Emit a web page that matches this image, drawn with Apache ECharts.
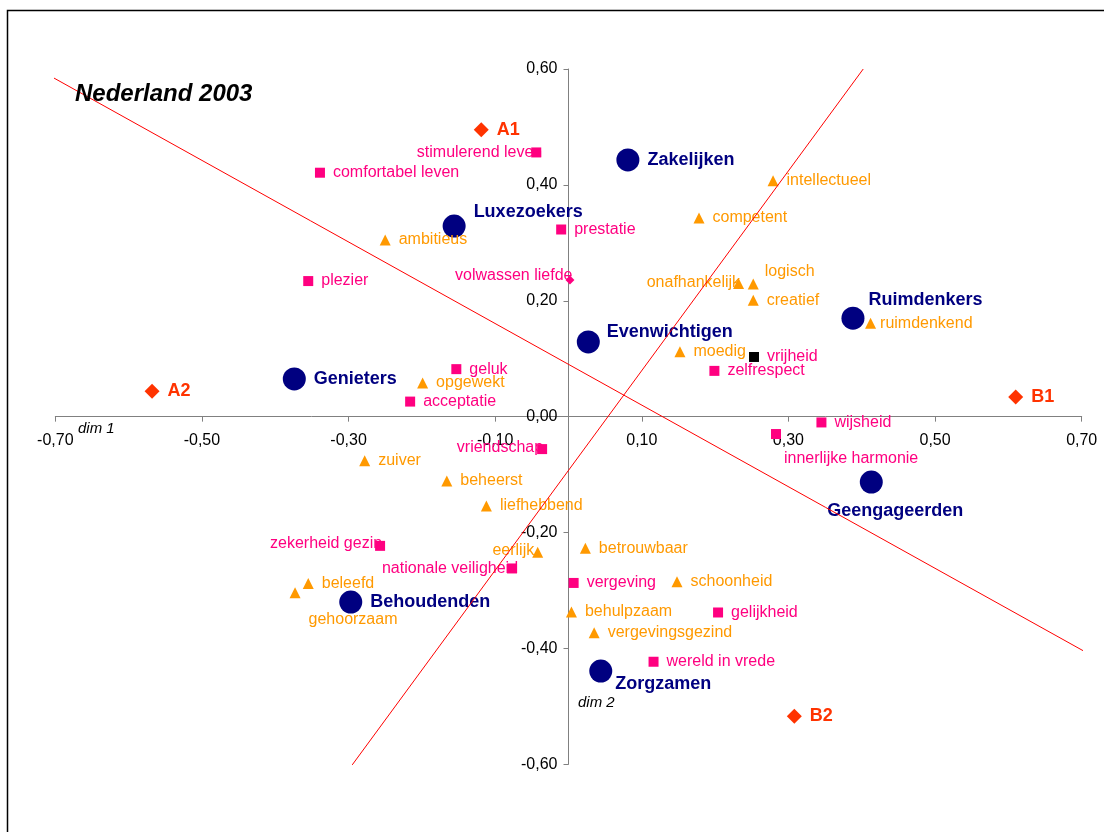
<!DOCTYPE html>
<html>
<head>
<meta charset="utf-8">
<script src="https://cdn.jsdelivr.net/npm/echarts@6/dist/echarts.min.js"></script>
<style>
html,body{margin:0;padding:0;background:#fff;}
#chart{width:1104px;height:832px;}
</style>
</head>
<body>
<div id="chart"></div>
<script>
// groepen (segmenten)
var groups = [
	[-0.156, 0.329, 'Luxezoekers'],
	[0.081, 0.443, 'Zakelijken'],
	[0.388, 0.170, 'Ruimdenkers'],
	[0.027, 0.129, 'Evenwichtigen'],
	[-0.374, 0.065, 'Genieters'],
	[0.413, -0.113, 'Geengageerden'],
	[-0.297, -0.320, 'Behoudenden'],
	[0.044, -0.439, 'Zorgzamen']
];
// ankerpunten
var anchors = [
	[-0.119, 0.495, 'A1'],
	[-0.568, 0.044, 'A2'],
	[0.610, 0.034, 'B1'],
	[0.308, -0.517, 'B2']
];
// eindwaarden
var terminal = [
	[-0.044, 0.456, 'stimulerend leven'],
	[-0.339, 0.421, 'comfortabel leven'],
	[-0.010, 0.323, 'prestatie'],
	[-0.355, 0.234, 'plezier'],
	[-0.153, 0.082, 'geluk'],
	[-0.216, 0.026, 'acceptatie'],
	[0.199, 0.079, 'zelfrespect'],
	[0.345, -0.010, 'wijsheid'],
	[0.283, -0.030, 'innerlijke harmonie'],
	[-0.036, -0.056, 'vriendschap'],
	[-0.257, -0.223, 'zekerheid gezin'],
	[-0.077, -0.262, 'nationale veiligheid'],
	[0.007, -0.287, 'vergeving'],
	[0.204, -0.338, 'gelijkheid'],
	[0.116, -0.423, 'wereld in vrede']
];
var terminalDiamond = [
	[0.002, 0.236, 'volwassen liefde']
];
var terminalBlack = [
	[0.253, 0.103, 'vrijheid']
];
// instrumentele waarden
var instrumental = [
	[0.279, 0.407, 'intellectueel'],
	[0.178, 0.343, 'competent'],
	[-0.250, 0.305, 'ambitieus'],
	[0.232, 0.230, 'onafhankelijk'],
	[0.252, 0.229, 'logisch'],
	[0.252, 0.201, 'creatief'],
	[0.412, 0.161, 'ruimdenkend'],
	[0.152, 0.112, 'moedig'],
	[-0.199, 0.058, 'opgewekt'],
	[-0.278, -0.076, 'zuiver'],
	[-0.166, -0.111, 'beheerst'],
	[-0.112, -0.154, 'liefhebbend'],
	[-0.042, -0.234, 'eerlijk'],
	[0.023, -0.227, 'betrouwbaar'],
	[0.148, -0.285, 'schoonheid'],
	[-0.355, -0.288, 'beleefd'],
	[-0.373, -0.304, 'gehoorzaam'],
	[0.004, -0.337, 'behulpzaam'],
	[0.035, -0.373, 'vergevingsgezind']
];
// assen (rode lijnen)
var axisA = [[-0.707, 0.588], [0.702, -0.404]];
var axisB = [[-0.295, -0.601], [0.402, 0.600]];

// afwijkende labelposities
var labelPlace = {
	'stimulerend leven': {position: 'left', distance: 0, offset: [11, 0]},
	'volwassen liefde': {position: 'left', distance: 0, offset: [7, -4]},
	'onafhankelijk': {position: 'left', distance: 0, offset: [7, -1]},
	'vriendschap': {position: 'left', distance: 0, offset: [6, -2]},
	'zekerheid gezin': {position: 'left', distance: 0, offset: [7, -2]},
	'nationale veiligheid': {position: 'left', distance: 0, offset: [11, 0]},
	'eerlijk': {position: 'left', distance: 0, offset: [2, -2]},
	'innerlijke harmonie': {position: 'right', distance: 3, offset: [0, 25]},
	'gehoorzaam': {position: 'right', distance: 8, offset: [0, 27]},
	'logisch': {position: 'right', distance: 6, offset: [0, -12]},
	'ruimdenkend': {position: 'right', distance: 4},
	'Luxezoekers': {position: 'right', distance: 8, offset: [0, -14]},
	'Ruimdenkers': {position: 'right', distance: 4, offset: [0, -18]},
	'Evenwichtigen': {position: 'right', distance: 7, offset: [0, -10]},
	'Zorgzamen': {position: 'right', distance: 3, offset: [0, 13]},
	'Geengageerden': {position: 'bottom', distance: 8, offset: [24, 0]}
};

function toItems(list) {
	var out = [];
	for (var i = 0; i < list.length; i++) {
		var item = {name: list[i][2], value: [list[i][0], list[i][1]]};
		if (labelPlace[list[i][2]]) item.label = labelPlace[list[i][2]];
		out.push(item);
	}
	return out;
}

var font = '"Liberation Sans", Arial, sans-serif';
var pink = '#ff0080';
var orange = '#ff9900';
var navy = '#000080';
var red = '#ff3300';

var gridL = 55.3, gridR = 22.3, gridT = 69, gridB = 67.7;
var plotW = 1104 - gridL - gridR;
var plotH = 832 - gridT - gridB;

function fmt(v) {
	if (Math.abs(v) < 1e-9) v = 0;
	return v.toFixed(2).replace('.', ',');
}

function scatter(name, data, symbol, size, color, labelColor, bold, fontSize) {
	return {
		name: name,
		type: 'scatter',
		symbol: symbol,
		symbolSize: size,
		data: toItems(data),
		itemStyle: {color: color, opacity: 1},
		z: 3,
		label: {
			show: true,
			position: 'right',
			distance: 8,
			formatter: '{b}',
			color: labelColor,
			fontFamily: font,
			fontSize: fontSize,
			fontWeight: bold ? 'bold' : 'normal'
		},
		emphasis: {disabled: true}
	};
}

var chart = echarts.init(document.getElementById('chart'));
var option = {
	backgroundColor: '#fff',
	animation: false,
	grid: {left: gridL, right: gridR, top: gridT, bottom: gridB},
	xAxis: {
		type: 'value',
		min: -0.7,
		max: 0.7,
		interval: 0.2,
		position: 'bottom',
		offset: -plotH / 2,
		splitLine: {show: false},
		axisLine: {onZero: false, lineStyle: {color: '#808080', width: 1}},
		axisTick: {show: true, length: 5, lineStyle: {color: '#808080'}},
		axisLabel: {color: '#000', fontFamily: font, fontSize: 16, margin: 16, formatter: fmt, showMinLabel: true, showMaxLabel: true}
	},
	yAxis: {
		type: 'value',
		min: -0.6,
		max: 0.6,
		interval: 0.2,
		position: 'left',
		offset: -plotW / 2,
		splitLine: {show: false},
		axisLine: {onZero: false, lineStyle: {color: '#808080', width: 1}},
		axisTick: {show: true, length: 5, lineStyle: {color: '#808080'}},
		axisLabel: {color: '#000', fontFamily: font, fontSize: 16, margin: 11, formatter: fmt}
	},
	graphic: [
		{type: 'rect', shape: {x: 7.5, y: 10.5, width: 1200, height: 900}, style: {fill: 'none', stroke: '#000', lineWidth: 1.5}, silent: true},
		{type: 'text', left: 75, top: 82, style: {text: 'Nederland 2003', font: 'italic bold 24px "Liberation Sans", Arial, sans-serif', fill: '#000'}, z: 10},
		{type: 'text', left: 78, top: 421, style: {text: 'dim 1', font: 'italic 15px "Liberation Sans", Arial, sans-serif', fill: '#000'}},
		{type: 'text', left: 578, top: 695, style: {text: 'dim 2', font: 'italic 15px "Liberation Sans", Arial, sans-serif', fill: '#000'}}
	],
	series: [
		scatter('terminal', terminal, 'rect', 10, pink, pink, false, 16),
		scatter('terminalDiamond', terminalDiamond, 'diamond', 9, pink, pink, false, 16),
		scatter('terminalBlack', terminalBlack, 'rect', 10, '#000', pink, false, 16),
		scatter('instrumental', instrumental, 'triangle', 11, orange, orange, false, 16),
		scatter('anchors', anchors, 'diamond', 15, red, red, true, 18),
		scatter('groups', groups, 'circle', 23, navy, navy, true, 18),
		{type: 'line', data: axisA, symbol: 'none', clip: false, z: 5, lineStyle: {color: '#ff0000', width: 1}},
		{type: 'line', data: axisB, symbol: 'none', clip: false, z: 5, lineStyle: {color: '#ff0000', width: 1}}
	]
};
chart.setOption(option);
</script>
</body>
</html>
